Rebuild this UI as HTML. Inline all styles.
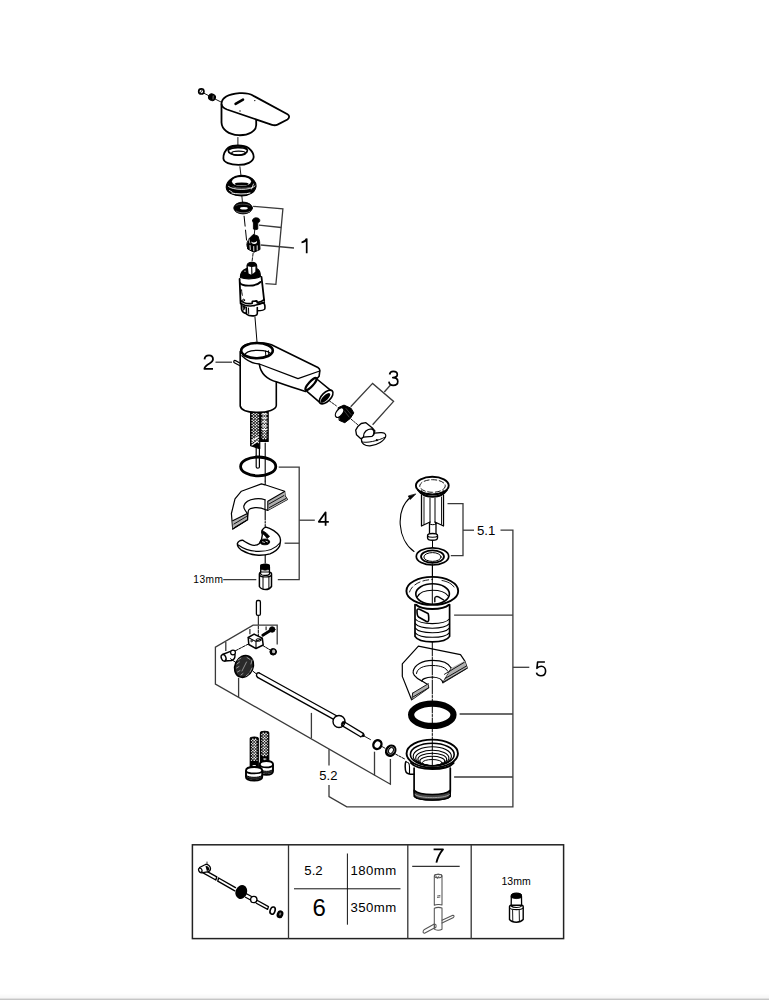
<!DOCTYPE html>
<html><head><meta charset="utf-8">
<style>
html,body{margin:0;padding:0;background:#fff;width:769px;height:1000px;overflow:hidden}
svg{position:absolute;left:0;top:0}
text{font-family:"Liberation Sans",sans-serif;fill:#000}
</style></head>
<body>
<svg width="769" height="1000" viewBox="0 0 769 1000">
<defs>
<linearGradient id="sh" x1="0" y1="0" x2="0" y2="1">
<stop offset="0" stop-color="#fff"/><stop offset="1" stop-color="#f4f4f4"/>
</linearGradient>
</defs>
<rect x="0" y="993.5" width="769" height="5.5" fill="url(#sh)"/>
<rect x="0" y="998.6" width="769" height="1.4" fill="#c6c6c6"/>

<g id="table" fill="none" stroke="#111" stroke-width="1.3">
<rect x="192.4" y="844.8" width="371.2" height="93.8" stroke="#222" stroke-width="1.5"/>
<line x1="288.5" y1="845" x2="288.5" y2="939" stroke="#333"/>
<line x1="407.8" y1="845" x2="407.8" y2="939" stroke="#333"/>
<line x1="471.2" y1="845" x2="471.2" y2="939" stroke="#333"/>
<line x1="294" y1="888.8" x2="400.5" y2="888.8" stroke-width="1"/>
<line x1="347.4" y1="853.5" x2="347.4" y2="924.7" stroke-width="1"/>
<line x1="412.2" y1="866.3" x2="459.7" y2="866.3" stroke="#333" stroke-width="1.2"/>
</g>
<g id="top" fill="none" stroke="#000" stroke-width="1.8" stroke-linejoin="round" stroke-linecap="round">
<!-- small screw + nut -->
<circle cx="201.3" cy="91.4" r="2.6" stroke-width="1.7"/>
<path d="M200.2,93.2 L201.5,91.2 L202.2,89.8" stroke-width="1" stroke="#222"/>
<ellipse cx="212" cy="97.3" rx="3.5" ry="3.2" transform="rotate(30 212 97.3)" fill="#000" stroke-width="1"/>
<path d="M213.2,96 L213,99" stroke="#888" stroke-width="0.9"/>
<line x1="203.5" y1="93" x2="209" y2="95.8" stroke-width="0.9"/>
<line x1="215" y1="99" x2="221" y2="102" stroke-width="0.9"/>
<!-- handle -->
<path d="M221.5,103.5 C222,98 228,94.2 239.5,93.2 C246,92.8 250.5,94 253,95.6 L287.5,114.2 C289.8,115.6 289.6,118 287.5,119.5 L277.5,124.6 C275.8,125.4 273.8,125.4 272,124.8 L227,109.5 C223.5,108.2 221.4,106.2 221.5,103.5 Z"/>
<path d="M221.5,104.5 L221.5,122.5 C221.8,129.5 228.5,134.6 238.5,135.2 C249,135.6 256.2,131 256.2,125 L256.2,120.2"/>
<path d="M235.6,103.8 L243,99.6" stroke-width="2.6"/>
<circle cx="254.8" cy="100.6" r="0.7" fill="#000" stroke="none"/>
<circle cx="240" cy="111" r="0.7" fill="#000" stroke="none"/>
<line x1="237.9" y1="137.5" x2="237.9" y2="145" stroke-width="0.9"/>
<!-- cap -->
<path d="M223.4,158.5 C223.2,154 225.5,150 228.5,147.5 C231,146 234.5,145.5 238,145.5 C242.5,145.5 246,146.2 248.5,148 C251.5,150.5 253.8,154 253.7,157 C253.2,162 246.5,164.9 238.5,164.9 C230,164.9 223.7,162.4 223.4,158.5 Z"/>
<ellipse cx="237.8" cy="150.5" rx="9.6" ry="4.6" stroke-width="1.7"/>
<path d="M229.5,149.5 C232,147.2 243,147 246.5,149.2" stroke-width="1.6"/>
<ellipse cx="238.6" cy="153.2" rx="6.9" ry="2.1" stroke-width="1.3"/>
<line x1="239.9" y1="166.7" x2="240.9" y2="175" stroke-width="0.9"/>
<!-- nut -->
<path d="M226.3,187.5 C226,182 232,176 241.4,175.3 C250,175.3 256.5,181 256,186.5 C255.5,192 249,195.9 241.4,195.9 C233,195.9 226.6,192.5 226.3,187.5 Z" fill="#000" stroke-width="1.2"/>
<ellipse cx="241.5" cy="181.5" rx="9.6" ry="4.6" fill="#fff" stroke="none"/>
<ellipse cx="241.7" cy="184" rx="7" ry="1.6" fill="#000" stroke="none"/>
<path d="M228.5,186.5 C232,190 250,191 255,186" stroke="#fff" stroke-width="0.9"/>
<path d="M232,193 C236,194.2 246,194.5 250,193" stroke="#fff" stroke-width="1"/>
<path d="M229.5,190.5 L232,192 M253.5,184 L251.5,189" stroke="#fff" stroke-width="0.8"/>
<path d="M233,187 C237,188.5 246,188.5 250,187.5" stroke="#888" stroke-width="0.7"/>
<line x1="241.9" y1="196.4" x2="242.5" y2="202.6" stroke-width="0.9"/>
<!-- seal -->
<ellipse cx="243.1" cy="208" rx="9.3" ry="5.9" fill="#000" stroke-width="1"/>
<ellipse cx="243.9" cy="208.3" rx="3.9" ry="1.2" fill="#fff" stroke="none"/>
<path d="M236.5,211.3 C239,213.2 247,213.5 250,211.3" stroke="#999" stroke-width="0.7"/>
<path d="M236,205.5 C238,203.8 247,203.5 250,205.5" stroke="#777" stroke-width="0.6"/>
<line x1="244.1" y1="216.2" x2="247.2" y2="246.5" stroke-width="1" stroke-dasharray="10,4"/>
<!-- screw -->
<path d="M252.6,220.5 C252.6,218.6 254.2,217.8 256.2,217.8 C258.3,217.8 259.8,218.6 259.8,220.5 C259.8,222 258.6,222.7 257.8,222.8 L257.8,229 C257.5,229.8 254,229.8 253.4,229 L253.4,222.8 C252.8,222.5 252.6,221.6 252.6,220.5 Z" fill="#000" stroke-width="0.8"/>
<line x1="254.8" y1="229.3" x2="254.3" y2="234.5" stroke-width="0.9"/>
<!-- spindle adapter -->
<path d="M249.3,238.5 L253.3,234.4 L258,236.2 L259.6,241.5 L260,249.5 L254,252.2 L247.6,249 L247.2,243 Z" fill="#000" stroke-width="1"/>
<path d="M251.2,241.5 C252.5,242.8 255.5,242.8 257,241 C257.2,242.5 256.5,243.8 254.3,244 C252.3,244 251.3,243 251.2,241.5 Z" fill="#fff" stroke="none"/>
<path d="M250,245.5 L250.3,249.5 M253.7,246.5 L253.8,250.8 M257.2,245.8 L257.2,250" stroke="#fff" stroke-width="0.9"/>
<path d="M249,239.5 L249.8,243" stroke="#fff" stroke-width="0.7"/>
<line x1="253.1" y1="253.3" x2="251.9" y2="262.6" stroke-width="0.9" stroke-dasharray="3,1.5"/>
<!-- cartridge -->
<path d="M240.4,277.5 C240.2,274 242,270.5 246.5,268.6 L247,268.5 L247,265.5 C247.5,263.2 250,262.3 251.8,262.3 C254.3,262.3 256.6,263.5 256.7,266 L256.7,268.5 C259,269.5 260.5,273 260.5,276.5 C257,279 246,279.8 240.4,277.5 Z" fill="#000" stroke-width="1.1"/>
<path d="M247.8,266.2 L251.2,267 L251.3,274.8 L248.6,273.6 Z M252.2,267 L255.5,266.4 L255.3,271.8 L252.5,274 Z" fill="#fff" stroke="none"/>
<circle cx="245" cy="271.2" r="0.6" fill="#fff" stroke="none"/>
<path d="M239.6,279 L240.6,303.5 M261.5,277 L264.2,301" stroke-width="1.8"/>
<path d="M240,283 C242,286.5 256,286.8 260.5,282" stroke-width="1.9"/>
<path d="M240.8,300.5 C243.5,303.2 249,303.8 252.1,303.4 L252.4,301.4 L256.8,300.9 L257.2,302.6 C260,302 262.5,301 264.1,299.6" stroke-width="1.7"/>
<path d="M241.3,303.6 C245,305.8 249.5,306.2 252.2,305.8 C256,305.2 261,303.8 264.3,302.4" stroke-width="1.6"/>
<path d="M241.3,303.5 L241.5,309 C242,311.5 244,313.2 246.4,313.6 M246.3,307.6 L246.5,314.2 C248.5,315.8 252.5,316.1 255.5,315.6 C256.5,315.2 257.3,314.4 257.3,313.5 L257.3,307.5 M257.3,304.2 L262.8,302.8 C264.6,303.2 265.2,306 264.8,309 C264.3,310 262,310.6 257.5,310.8" stroke-width="1.6"/>
<path d="M242.8,305.5 L245.5,306.8 L243.8,310 Z" fill="#000" stroke-width="0.8"/>
<path d="M248.5,308 L248.7,313.5" stroke-width="1"/>
<circle cx="243.6" cy="300.2" r="1" stroke-width="1"/>
<path d="M241.6,289.8 C241.6,292 242,294 242.4,295.2" stroke-width="1"/>
<line x1="255" y1="317.4" x2="257" y2="342" stroke-width="1"/>
</g>
<g id="body" fill="none" stroke="#000" stroke-width="1.6" stroke-linejoin="round" stroke-linecap="round">
<defs>
<pattern id="hatch" width="2.8" height="2.8" patternUnits="userSpaceOnUse">
<rect width="2.8" height="2.8" fill="#000"/><path d="M1.4,0.2 L2.6,1.4 L1.4,2.6 L0.2,1.4 Z" fill="#fff"/>
</pattern>
</defs>
<!-- hoses -->
<path d="M250.6,411.5 L250.6,445.8 L259.8,448.6 L259.8,411.5 Z" fill="#000" stroke-width="1.1"/>
<path d="M253.67,412.20L254.67,413.20L253.67,414.20L252.67,413.20ZM256.73,412.20L257.73,413.20L256.73,414.20L255.73,413.20ZM252.13,413.67L253.07,414.60L252.13,415.53L251.20,414.60ZM255.20,413.60L256.20,414.60L255.20,415.60L254.20,414.60ZM258.27,413.67L259.20,414.60L258.27,415.53L257.33,414.60ZM253.67,415.00L254.67,416.00L253.67,417.00L252.67,416.00ZM256.73,415.00L257.73,416.00L256.73,417.00L255.73,416.00ZM252.13,416.47L253.07,417.40L252.13,418.33L251.20,417.40ZM255.20,416.40L256.20,417.40L255.20,418.40L254.20,417.40ZM258.27,416.47L259.20,417.40L258.27,418.33L257.33,417.40ZM253.67,417.80L254.67,418.80L253.67,419.80L252.67,418.80ZM256.73,417.80L257.73,418.80L256.73,419.80L255.73,418.80ZM252.13,419.27L253.07,420.20L252.13,421.13L251.20,420.20ZM255.20,419.20L256.20,420.20L255.20,421.20L254.20,420.20ZM258.27,419.27L259.20,420.20L258.27,421.13L257.33,420.20ZM253.67,420.60L254.67,421.60L253.67,422.60L252.67,421.60ZM256.73,420.60L257.73,421.60L256.73,422.60L255.73,421.60ZM252.13,422.07L253.07,423.00L252.13,423.93L251.20,423.00ZM255.20,422.00L256.20,423.00L255.20,424.00L254.20,423.00ZM258.27,422.07L259.20,423.00L258.27,423.93L257.33,423.00ZM253.67,423.40L254.67,424.40L253.67,425.40L252.67,424.40ZM256.73,423.40L257.73,424.40L256.73,425.40L255.73,424.40ZM252.13,424.87L253.07,425.80L252.13,426.73L251.20,425.80ZM255.20,424.80L256.20,425.80L255.20,426.80L254.20,425.80ZM258.27,424.87L259.20,425.80L258.27,426.73L257.33,425.80ZM253.67,426.20L254.67,427.20L253.67,428.20L252.67,427.20ZM256.73,426.20L257.73,427.20L256.73,428.20L255.73,427.20ZM252.13,427.67L253.07,428.60L252.13,429.53L251.20,428.60ZM255.20,427.60L256.20,428.60L255.20,429.60L254.20,428.60ZM258.27,427.67L259.20,428.60L258.27,429.53L257.33,428.60ZM253.67,429.00L254.67,430.00L253.67,431.00L252.67,430.00ZM256.73,429.00L257.73,430.00L256.73,431.00L255.73,430.00ZM252.13,430.47L253.07,431.40L252.13,432.33L251.20,431.40ZM255.20,430.40L256.20,431.40L255.20,432.40L254.20,431.40ZM258.27,430.47L259.20,431.40L258.27,432.33L257.33,431.40ZM253.67,431.80L254.67,432.80L253.67,433.80L252.67,432.80ZM256.73,431.80L257.73,432.80L256.73,433.80L255.73,432.80ZM252.13,433.27L253.07,434.20L252.13,435.13L251.20,434.20ZM255.20,433.20L256.20,434.20L255.20,435.20L254.20,434.20ZM258.27,433.27L259.20,434.20L258.27,435.13L257.33,434.20ZM253.67,434.60L254.67,435.60L253.67,436.60L252.67,435.60ZM256.73,434.60L257.73,435.60L256.73,436.60L255.73,435.60ZM252.13,436.07L253.07,437.00L252.13,437.93L251.20,437.00ZM255.20,436.00L256.20,437.00L255.20,438.00L254.20,437.00ZM258.27,436.07L259.20,437.00L258.27,437.93L257.33,437.00ZM253.67,437.40L254.67,438.40L253.67,439.40L252.67,438.40ZM256.73,437.40L257.73,438.40L256.73,439.40L255.73,438.40ZM252.13,438.87L253.07,439.80L252.13,440.73L251.20,439.80ZM255.20,438.80L256.20,439.80L255.20,440.80L254.20,439.80ZM258.27,438.87L259.20,439.80L258.27,440.73L257.33,439.80ZM253.67,440.20L254.67,441.20L253.67,442.20L252.67,441.20ZM256.73,440.20L257.73,441.20L256.73,442.20L255.73,441.20ZM252.13,441.67L253.07,442.60L252.13,443.53L251.20,442.60ZM255.20,441.60L256.20,442.60L255.20,443.60L254.20,442.60ZM258.27,441.67L259.20,442.60L258.27,443.53L257.33,442.60Z" fill="#fff" stroke="none"/>
<path d="M260.6,411.5 L260.6,441.4 L268.2,441.4 L268.2,411.5 Z" fill="#000" stroke-width="1.1"/>
<path d="M263.13,412.20L264.13,413.20L263.13,414.20L262.13,413.20ZM265.67,412.20L266.67,413.20L265.67,414.20L264.67,413.20ZM261.87,413.93L262.53,414.60L261.87,415.27L261.20,414.60ZM264.40,413.60L265.40,414.60L264.40,415.60L263.40,414.60ZM266.93,413.93L267.60,414.60L266.93,415.27L266.27,414.60ZM263.13,415.00L264.13,416.00L263.13,417.00L262.13,416.00ZM265.67,415.00L266.67,416.00L265.67,417.00L264.67,416.00ZM261.87,416.73L262.53,417.40L261.87,418.07L261.20,417.40ZM264.40,416.40L265.40,417.40L264.40,418.40L263.40,417.40ZM266.93,416.73L267.60,417.40L266.93,418.07L266.27,417.40ZM263.13,417.80L264.13,418.80L263.13,419.80L262.13,418.80ZM265.67,417.80L266.67,418.80L265.67,419.80L264.67,418.80ZM261.87,419.53L262.53,420.20L261.87,420.87L261.20,420.20ZM264.40,419.20L265.40,420.20L264.40,421.20L263.40,420.20ZM266.93,419.53L267.60,420.20L266.93,420.87L266.27,420.20ZM263.13,420.60L264.13,421.60L263.13,422.60L262.13,421.60ZM265.67,420.60L266.67,421.60L265.67,422.60L264.67,421.60ZM261.87,422.33L262.53,423.00L261.87,423.67L261.20,423.00ZM264.40,422.00L265.40,423.00L264.40,424.00L263.40,423.00ZM266.93,422.33L267.60,423.00L266.93,423.67L266.27,423.00ZM263.13,423.40L264.13,424.40L263.13,425.40L262.13,424.40ZM265.67,423.40L266.67,424.40L265.67,425.40L264.67,424.40ZM261.87,425.13L262.53,425.80L261.87,426.47L261.20,425.80ZM264.40,424.80L265.40,425.80L264.40,426.80L263.40,425.80ZM266.93,425.13L267.60,425.80L266.93,426.47L266.27,425.80ZM263.13,426.20L264.13,427.20L263.13,428.20L262.13,427.20ZM265.67,426.20L266.67,427.20L265.67,428.20L264.67,427.20ZM261.87,427.93L262.53,428.60L261.87,429.27L261.20,428.60ZM264.40,427.60L265.40,428.60L264.40,429.60L263.40,428.60ZM266.93,427.93L267.60,428.60L266.93,429.27L266.27,428.60ZM263.13,429.00L264.13,430.00L263.13,431.00L262.13,430.00ZM265.67,429.00L266.67,430.00L265.67,431.00L264.67,430.00ZM261.87,430.73L262.53,431.40L261.87,432.07L261.20,431.40ZM264.40,430.40L265.40,431.40L264.40,432.40L263.40,431.40ZM266.93,430.73L267.60,431.40L266.93,432.07L266.27,431.40ZM263.13,431.80L264.13,432.80L263.13,433.80L262.13,432.80ZM265.67,431.80L266.67,432.80L265.67,433.80L264.67,432.80ZM261.87,433.53L262.53,434.20L261.87,434.87L261.20,434.20ZM264.40,433.20L265.40,434.20L264.40,435.20L263.40,434.20ZM266.93,433.53L267.60,434.20L266.93,434.87L266.27,434.20ZM263.13,434.60L264.13,435.60L263.13,436.60L262.13,435.60ZM265.67,434.60L266.67,435.60L265.67,436.60L264.67,435.60ZM261.87,436.33L262.53,437.00L261.87,437.67L261.20,437.00ZM264.40,436.00L265.40,437.00L264.40,438.00L263.40,437.00ZM266.93,436.33L267.60,437.00L266.93,437.67L266.27,437.00ZM263.13,437.40L264.13,438.40L263.13,439.40L262.13,438.40ZM265.67,437.40L266.67,438.40L265.67,439.40L264.67,438.40Z" fill="#fff" stroke="none"/>
<path d="M262,414 L267,414 M262,418 L267,418 M262,422 L267,422 M262,426 L267,426 M262,429.5 L267,429.5" stroke="#fff" stroke-width="1.2"/>
<path d="M252,441 L258,437 M252,445 L258,441" stroke="#fff" stroke-width="1.1"/>
<path d="M256.2,447.5 L256.2,467 C256.2,468.6 259.4,468.6 259.4,467 L259.4,447.5" stroke-width="1.2"/>
<line x1="265.2" y1="443" x2="265.2" y2="481" stroke-width="1.1"/>
<line x1="265.2" y1="481" x2="265.2" y2="563" stroke-width="1.1" stroke-dasharray="10,1.5,1.5,1.5"/>
<!-- O-ring -->
<ellipse cx="258.2" cy="466.4" rx="17.6" ry="9.4" stroke-width="2.8"/>
<!-- body -->
<path d="M234.9,361.6 L241.5,365.3" stroke-width="3.6" stroke-linecap="round"/>
<path d="M235,361.7 L241.5,365.3" stroke="#fff" stroke-width="1.3" stroke-linecap="round"/>
<path d="M240.2,351.5 L240.2,406 C241,410 248,412.4 257.8,412.4 C268,412.4 276,409.5 276.3,405.5 L276.3,382.5" fill="#fff"/>
<path d="M241,351 C241,346 248,342.8 257,342.8 C263,342.8 268,343.3 271.5,344.8 L317.9,367.5 C319.5,368.5 320,369.5 319.8,371 L319.1,376.3 L305.5,391.4 C297,389 285,385 277,382.1 C266,379 260.5,372 259.4,364.6" fill="#fff"/>
<ellipse cx="257" cy="350.6" rx="15.8" ry="7.6" stroke-width="2.6"/>
<path d="M244.5,356 C245,352 250,350.3 257.5,350.3 C265,350.3 270.5,352 271,354.5" stroke-width="1.2"/>
<path d="M265.5,351 L265.8,356 M268.5,350.8 L268.8,355.5" stroke-width="1"/>
<path d="M241.9,355.8 C247,361 252,363.5 259.4,364 L298,378.6 L319.7,371" stroke-width="1.3"/>
<!-- nozzle -->
<ellipse cx="311" cy="384" rx="8" ry="2.3" transform="rotate(-48 311 384)" fill="#fff" stroke-width="2.2"/>
<path d="M316.8,379 L331,390.6 M306.9,391.4 L320.6,403.1" stroke-width="1.6"/>
<ellipse cx="326.2" cy="397" rx="8.6" ry="4.4" transform="rotate(-45 326.2 397)" fill="#fff" stroke-width="1.6"/>
<ellipse cx="325.4" cy="398" rx="6.4" ry="2.6" transform="rotate(-45 325.4 398)" fill="#000" stroke="none"/>
<line x1="329.5" y1="401" x2="337.3" y2="406.5" stroke-width="0.9" stroke-dasharray="2,1.2"/>
<!-- aerator -->
<path d="M338.5,407.5 L344,405.1 L351.1,408.3 L353.8,412.9 L350.3,418.4 L344.8,422.7 L339.5,420.5 Z" fill="#000" stroke-width="1"/>
<ellipse cx="339.6" cy="412.6" rx="3.1" ry="5.6" transform="rotate(38 339.6 412.6)" fill="#fff" stroke-width="1.3"/>
<path d="M346,408.5 L351,414.5 M344.5,411 L349,417" stroke="#555" stroke-width="0.7"/>
<line x1="351.1" y1="419.2" x2="358.1" y2="425" stroke-width="0.9" stroke-dasharray="2,1.2"/>
<!-- key -->
<path d="M361.5,439 C361,443.5 365,446 370,445.8 C377,445.3 385,440.5 385.8,436 C386,433.5 383.8,432.3 380.5,432.6 L374.5,433.2 L363,437 Z" fill="#fff" stroke-width="1.2"/>
<path d="M361.6,441.8 C366,443.5 378,441 385.4,437" stroke-width="1"/>
<path d="M355.7,430.1 L358.1,426.2 L361.2,423.5 L365.9,422.7 L372.1,427.8 L374.9,430.9 L373.7,434.8 L372.1,436.3 L363.5,437.1 L360.8,438.7 L356.5,434.8 Z" fill="#fff" stroke-width="1.3"/>
<path d="M363.5,436.5 C363.5,432 367,429 371.5,428.8 C373.5,429.5 374.4,432 373.5,434.6" stroke-width="1.3"/>
<circle cx="376.8" cy="440.2" r="1.1" fill="#000" stroke="none"/>
</g>
<g id="mid" fill="none" stroke="#000" stroke-width="1.5" stroke-linejoin="round" stroke-linecap="round">
<!-- bent plate 4 -->
<path d="M232.7,529 L231.4,513.5 L235,498.9 L241.4,491.2 L261.4,483.9 L265,484.8 L284.6,491.2 L285.1,496.2 L287.3,499.4 L267.8,510.3 L265,509.5 C262,507.8 258,507.4 255,507.6 C251.5,508 248.5,509.5 248.3,511 L247.5,519.5 Z" fill="#fff" stroke-width="1.2"/>
<path d="M265,499.8 C262,498.7 258,498.5 255,498.9 C250,499.5 245,502 243.8,506 C243.5,509 245.5,511 247.3,513.2" stroke-width="1.2"/>
<path d="M267.8,501.2 L284.8,491.5 L285.1,496.2 L287.3,499.4 L267.8,510.3 Z" fill="#b0b0b0" stroke="none"/>
<path d="M232.7,520.8 L247.3,513.6 L247.7,519.8 L232.7,529 Z" fill="#b0b0b0" stroke="none"/>
<path d="M265,499.8 L265,509.5 M267.8,501.2 L267.8,510.3 M267.8,501.2 L284.6,491.5" stroke-width="1.1"/>
<path d="M269,504 L284,495.5 M269.5,507.5 L286,498.5" stroke-width="0.9"/>
<path d="M232.7,520.8 L247.3,513.6 M232.7,529 L247.7,519.8 M247.3,513.2 L247.6,519.8" stroke-width="1.1"/>
<path d="M234,524 L246.5,516.5 M234.5,527.5 L247,520" stroke-width="0.9"/>
<!-- clip -->
<path d="M237.4,543.5 C238,541.5 240.5,540 242.5,540.2 C246,542.2 250,545.2 254,545.4 C256.5,545.4 258.5,544.5 259.4,543.5 C261,541 262.3,538 262.3,535 C262,532.5 261.5,531 262.3,529.9 C263.5,528 265,527.2 266,527.1 C270,528 272,529.5 274.1,530.8 C278,533.5 280.5,537 280.5,539.9 C280.5,542 280,544 279.6,546.2 C277.5,550 274,552.5 270,553.8 C266,555 262,555.3 258.5,555.2 C252,555 245.5,552.5 241,549.8 C238.5,548 237.2,545.5 237.4,543.5 Z" fill="#fff" stroke-width="1.4"/>
<path d="M238.3,545 C243,548.5 251,551.3 258.8,551.4 C268,551.4 276,548 279.8,543" stroke-width="1.1"/>
<path d="M262.3,530.5 C265,532 268,534 269.5,536.5 L267,538.5 C265.5,536 263.5,534 262,533.3 Z" fill="#000" stroke-width="0.8"/>
<ellipse cx="264.9" cy="541.9" rx="4.7" ry="2.9" fill="#000" stroke-width="0.8"/>
<path d="M262.5,541.8 L264.5,542.4 M266,541.3 L267.6,541.9" stroke="#fff" stroke-width="0.8"/>
<!-- 13mm nut -->
<path d="M260.9,567 C261,564.8 263,564.2 265.2,564.2 C267.5,564.2 269.4,565 269.4,567 L269.4,574 C269,576 261.5,576 260.6,574 Z" fill="#fff" stroke-width="1.4"/>
<path d="M261,564.8 L269.3,564.8 L269.5,569 C267,570.5 263,570.5 260.8,569 Z" fill="#000" stroke-width="0.9"/>
<path d="M259.4,573.8 C259.6,572.5 260.6,572.2 261.2,572.2 L269.2,572.2 C270.6,572.3 271.5,573 271.5,574 L271.5,586.5 C270,588.5 268,589.6 265.8,589.6 C263,589.6 260.5,588.5 259.4,586.5 Z" fill="#fff" stroke-width="1.5"/>
<path d="M260.6,572.4 L260.6,574 C262,576 268.5,576 269.5,574 L269.5,572.4" fill="#fff" stroke-width="1.3"/>
<path d="M259.6,575.5 C261.5,577.5 269.5,577.5 271.3,575.5" stroke-width="1.2"/>
<path d="M263,577.3 L263,589 M268.9,577 L268.9,589" stroke-width="1"/>
<!-- pin -->
<rect x="256.4" y="600.5" width="4" height="14.8" rx="1.4" stroke-width="1.3"/>
<line x1="258.3" y1="615.5" x2="258.3" y2="625" stroke-width="1"/>
<line x1="258.3" y1="626.4" x2="258.3" y2="636" stroke-width="1" stroke-dasharray="2.5,1.2"/>
<!-- block -->
<path d="M248.2,637.5 L254.1,634.1 L262.3,638.2 L263.2,645 L256,648.5 L248.8,644.5 Z" fill="#fff" stroke-width="1.5"/>
<path d="M248.2,637.5 L256,641.5 L262.3,638.2 M256,641.5 L256,648.5" stroke-width="1.1"/>
<ellipse cx="258.5" cy="640" rx="2.5" ry="1.3" stroke-width="1"/>
<circle cx="251.5" cy="641" r="0.8" stroke-width="0.8"/>
<path d="M262.8,635.3 L270,630.8" stroke-width="2.8"/>
<circle cx="272.2" cy="629.5" r="2.8" fill="#000" stroke-width="0.8"/>
<line x1="263.5" y1="646" x2="269.6" y2="649.6" stroke-width="1" stroke-dasharray="2,1"/>
<circle cx="273.2" cy="651.8" r="3.3" fill="#000" stroke-width="1"/>
<ellipse cx="273.6" cy="651.4" rx="1.6" ry="1.9" fill="#bbb" stroke="none"/>
<!-- small cylinder -->
<line x1="235" y1="651" x2="248.2" y2="644.1" stroke-width="1" stroke-dasharray="3,1.2"/>
<path d="M222.5,654.5 L230.5,651.3 C233,650.5 235,653 235,655.5 C235,658 233.5,660 231.5,660.5 L224.5,661" fill="#fff" stroke-width="1.4"/>
<ellipse cx="223.6" cy="657.8" rx="2.3" ry="3.4" transform="rotate(-20 223.6 657.8)" fill="#fff" stroke-width="1.4"/>
<circle cx="233" cy="652.5" r="2.4" fill="#fff" stroke-width="1.2"/>
<line x1="230.5" y1="658.7" x2="235.5" y2="662.3" stroke-width="1"/>
<!-- knurled nut -->
<ellipse cx="244.05" cy="666.4" rx="9" ry="11.3" transform="rotate(25 244.05 666.4)" fill="#2a2a2a" stroke-width="1.6"/>
<path d="M238,660 L241,658 M237,664 L239.5,662 M236.5,668 L239,666.5 M237.5,672 L240,670.5 M241,675 L243,673.5 M246,676 L249,673.5 M250,672 L252,668 M251,664 L252,660 M247,657.5 L250,659.5" stroke="#999" stroke-width="1"/>
<path d="M242,671 L246.5,662" stroke="#aaa" stroke-width="0.8"/>
<line x1="253.2" y1="671.4" x2="256.5" y2="674" stroke-width="1"/>
<!-- long rod -->
<path d="M259.3,673 L337,716 M257.6,677.4 L335.5,720.3" stroke-width="1.4"/>
<path d="M259.3,673 C257,671.8 255.2,675.5 257.6,677.4" stroke-width="1.4"/>
<circle cx="339" cy="721.5" r="6" fill="#fff" stroke-width="1.4"/>
<path d="M344.5,722 L363.2,733.4 M342,725.6 L360.6,736.7" stroke-width="1.3"/>
<path d="M363.2,733.4 C364.5,734.5 364.5,736 363.5,736.5 L360.6,736.7" fill="#000" stroke-width="1.1"/>
<path d="M342.8,721.6 C341.5,722.5 341,724 341.6,725.8 L344.8,722.2 Z" fill="#000" stroke-width="0.9"/>
<line x1="364" y1="736" x2="370.5" y2="739.6" stroke-width="0.9"/>
<!-- small o-ring + washer -->
<ellipse cx="377.4" cy="744.6" rx="3.9" ry="4.5" transform="rotate(30 377.4 744.6)" stroke-width="2.4"/>
<line x1="382" y1="746.5" x2="385" y2="748.2" stroke-width="0.9"/>
<ellipse cx="390.7" cy="750.7" rx="5.6" ry="6.5" transform="rotate(30 390.7 750.7)" fill="#000" stroke="none"/>
<ellipse cx="390.9" cy="750.5" rx="3.2" ry="4" transform="rotate(30 390.9 750.5)" fill="none" stroke="#888" stroke-width="0.8"/>
<ellipse cx="391" cy="750.4" rx="1.8" ry="2.6" transform="rotate(30 391 750.4)" fill="#fff" stroke="none"/>
<!-- hoses bottom -->
<path d="M260.4,733 C260.4,731.8 262,731.3 264.6,731.3 C267,731.3 268.8,731.8 268.8,733 L268.8,762 L260.4,762 Z" fill="#000" stroke-width="1.1"/>
<path d="M263.20,732.20L264.20,733.20L263.20,734.20L262.20,733.20ZM266.00,732.20L267.00,733.20L266.00,734.20L265.00,733.20ZM261.80,733.80L262.60,734.60L261.80,735.40L261.00,734.60ZM264.60,733.60L265.60,734.60L264.60,735.60L263.60,734.60ZM267.40,733.80L268.20,734.60L267.40,735.40L266.60,734.60ZM263.20,735.00L264.20,736.00L263.20,737.00L262.20,736.00ZM266.00,735.00L267.00,736.00L266.00,737.00L265.00,736.00ZM261.80,736.60L262.60,737.40L261.80,738.20L261.00,737.40ZM264.60,736.40L265.60,737.40L264.60,738.40L263.60,737.40ZM267.40,736.60L268.20,737.40L267.40,738.20L266.60,737.40ZM263.20,737.80L264.20,738.80L263.20,739.80L262.20,738.80ZM266.00,737.80L267.00,738.80L266.00,739.80L265.00,738.80ZM261.80,739.40L262.60,740.20L261.80,741.00L261.00,740.20ZM264.60,739.20L265.60,740.20L264.60,741.20L263.60,740.20ZM267.40,739.40L268.20,740.20L267.40,741.00L266.60,740.20ZM263.20,740.60L264.20,741.60L263.20,742.60L262.20,741.60ZM266.00,740.60L267.00,741.60L266.00,742.60L265.00,741.60ZM261.80,742.20L262.60,743.00L261.80,743.80L261.00,743.00ZM264.60,742.00L265.60,743.00L264.60,744.00L263.60,743.00ZM267.40,742.20L268.20,743.00L267.40,743.80L266.60,743.00ZM263.20,743.40L264.20,744.40L263.20,745.40L262.20,744.40ZM266.00,743.40L267.00,744.40L266.00,745.40L265.00,744.40ZM261.80,745.00L262.60,745.80L261.80,746.60L261.00,745.80ZM264.60,744.80L265.60,745.80L264.60,746.80L263.60,745.80ZM267.40,745.00L268.20,745.80L267.40,746.60L266.60,745.80ZM263.20,746.20L264.20,747.20L263.20,748.20L262.20,747.20ZM266.00,746.20L267.00,747.20L266.00,748.20L265.00,747.20ZM261.80,747.80L262.60,748.60L261.80,749.40L261.00,748.60ZM264.60,747.60L265.60,748.60L264.60,749.60L263.60,748.60ZM267.40,747.80L268.20,748.60L267.40,749.40L266.60,748.60ZM263.20,749.00L264.20,750.00L263.20,751.00L262.20,750.00ZM266.00,749.00L267.00,750.00L266.00,751.00L265.00,750.00ZM261.80,750.60L262.60,751.40L261.80,752.20L261.00,751.40ZM264.60,750.40L265.60,751.40L264.60,752.40L263.60,751.40ZM267.40,750.60L268.20,751.40L267.40,752.20L266.60,751.40ZM263.20,751.80L264.20,752.80L263.20,753.80L262.20,752.80ZM266.00,751.80L267.00,752.80L266.00,753.80L265.00,752.80ZM261.80,753.40L262.60,754.20L261.80,755.00L261.00,754.20ZM264.60,753.20L265.60,754.20L264.60,755.20L263.60,754.20ZM267.40,753.40L268.20,754.20L267.40,755.00L266.60,754.20ZM263.20,754.60L264.20,755.60L263.20,756.60L262.20,755.60ZM266.00,754.60L267.00,755.60L266.00,756.60L265.00,755.60Z" fill="#fff" stroke="none"/>
<path d="M260.6,757.4 L268.6,757.4 L268.6,763 L260.6,763 Z" fill="#000" stroke="none"/>
<path d="M263.5,759 L266,759 M264.8,759 L264.8,763.5 M263.5,763.5 L266,763.5" stroke="#fff" stroke-width="0.8"/>
<path d="M259.8,764.5 C259.8,762 262.5,761 266.4,761 C270.3,761 273,762 273,764.5 L273,771 C273,773.5 270.3,774.8 266.4,774.8 C262.5,774.8 259.8,773.5 259.8,771 Z" fill="#fff" stroke-width="1.9"/>
<path d="M260.1,765.5 C262,768 271,768 272.7,765.5" stroke-width="1.8"/>
<path d="M260.3,769.5 C262.5,772 270.5,772 272.5,769.5 L272.6,771.5 C270.5,774 262.5,774 260.2,771.5 Z" fill="#333" stroke-width="1"/>
<path d="M250.2,738.5 C250.2,737.5 252,737 254.2,737 C256.5,737 258.3,737.5 258.3,738.5 L258.3,768 L250.2,768 Z" fill="#000" stroke-width="1.1"/>
<path d="M252.90,738.20L253.90,739.20L252.90,740.20L251.90,739.20ZM255.60,738.20L256.60,739.20L255.60,740.20L254.60,739.20ZM251.55,739.85L252.30,740.60L251.55,741.35L250.80,740.60ZM254.25,739.60L255.25,740.60L254.25,741.60L253.25,740.60ZM256.95,739.85L257.70,740.60L256.95,741.35L256.20,740.60ZM252.90,741.00L253.90,742.00L252.90,743.00L251.90,742.00ZM255.60,741.00L256.60,742.00L255.60,743.00L254.60,742.00ZM251.55,742.65L252.30,743.40L251.55,744.15L250.80,743.40ZM254.25,742.40L255.25,743.40L254.25,744.40L253.25,743.40ZM256.95,742.65L257.70,743.40L256.95,744.15L256.20,743.40ZM252.90,743.80L253.90,744.80L252.90,745.80L251.90,744.80ZM255.60,743.80L256.60,744.80L255.60,745.80L254.60,744.80ZM251.55,745.45L252.30,746.20L251.55,746.95L250.80,746.20ZM254.25,745.20L255.25,746.20L254.25,747.20L253.25,746.20ZM256.95,745.45L257.70,746.20L256.95,746.95L256.20,746.20ZM252.90,746.60L253.90,747.60L252.90,748.60L251.90,747.60ZM255.60,746.60L256.60,747.60L255.60,748.60L254.60,747.60ZM251.55,748.25L252.30,749.00L251.55,749.75L250.80,749.00ZM254.25,748.00L255.25,749.00L254.25,750.00L253.25,749.00ZM256.95,748.25L257.70,749.00L256.95,749.75L256.20,749.00ZM252.90,749.40L253.90,750.40L252.90,751.40L251.90,750.40ZM255.60,749.40L256.60,750.40L255.60,751.40L254.60,750.40ZM251.55,751.05L252.30,751.80L251.55,752.55L250.80,751.80ZM254.25,750.80L255.25,751.80L254.25,752.80L253.25,751.80ZM256.95,751.05L257.70,751.80L256.95,752.55L256.20,751.80ZM252.90,752.20L253.90,753.20L252.90,754.20L251.90,753.20ZM255.60,752.20L256.60,753.20L255.60,754.20L254.60,753.20ZM251.55,753.85L252.30,754.60L251.55,755.35L250.80,754.60ZM254.25,753.60L255.25,754.60L254.25,755.60L253.25,754.60ZM256.95,753.85L257.70,754.60L256.95,755.35L256.20,754.60ZM252.90,755.00L253.90,756.00L252.90,757.00L251.90,756.00ZM255.60,755.00L256.60,756.00L255.60,757.00L254.60,756.00ZM251.55,756.65L252.30,757.40L251.55,758.15L250.80,757.40ZM254.25,756.40L255.25,757.40L254.25,758.40L253.25,757.40ZM256.95,756.65L257.70,757.40L256.95,758.15L256.20,757.40ZM252.90,757.80L253.90,758.80L252.90,759.80L251.90,758.80ZM255.60,757.80L256.60,758.80L255.60,759.80L254.60,758.80ZM251.55,759.45L252.30,760.20L251.55,760.95L250.80,760.20ZM254.25,759.20L255.25,760.20L254.25,761.20L253.25,760.20ZM256.95,759.45L257.70,760.20L256.95,760.95L256.20,760.20Z" fill="#fff" stroke="none"/>
<path d="M250.4,761 L258.1,761 L258.1,768 L250.4,768 Z" fill="#000" stroke="none"/>
<path d="M253,765.5 L255.5,765.5 M254.2,765.5 L254.2,769.5 M253,769.5 L255.5,769.5" stroke="#fff" stroke-width="0.8"/>
<path d="M246,770.5 C246,768 249,767 254.1,767 C259.2,767 262.2,768 262.2,770.5 L262.2,777 C262.2,779.5 259.2,780.5 254.1,780.5 C249,780.5 246,779.5 246,777 Z" fill="#fff" stroke-width="1.9"/>
<path d="M246.3,771.5 C248,774 260,774 261.9,771.5" stroke-width="1.8"/>
<path d="M246.5,775.5 C248.5,778 259.5,778 261.7,775.5 L261.8,777.5 C259.5,780 248.5,780 246.4,777.5 Z" fill="#333" stroke-width="1"/>
</g>
<g id="drain" fill="none" stroke="#000" stroke-width="1.5" stroke-linejoin="round" stroke-linecap="round">
<!-- plug -->
<path d="M421.5,495 L421.5,526 L430,522 L429.5,524 L429.5,534 M443.5,495 L443.5,526 L435,522 L436,524 L436,534" fill="#fff" stroke-width="1.3"/>
<path d="M424,497 L424,524.5 M441.5,497 L441.5,524.5" stroke-width="0.9"/>
<path d="M430,498 L430,522 M435,498 L435,522" stroke-width="1"/>
<path d="M429.5,524 C431,525 434.5,525 436,524" stroke-width="1"/>
<ellipse cx="432.3" cy="485.6" rx="16.4" ry="8.8" fill="#fff" stroke-width="1.9"/>
<path d="M418,490 C421,494.5 427,496.5 432.5,496.5 C438,496.5 444,494.5 447,490" stroke-width="1.8"/>
<path d="M421.5,491 C421.5,495 425,496.8 432.5,496.8 C440,496.8 443.5,495 443.5,491" stroke-width="1.6"/>
<ellipse cx="432.5" cy="486" rx="12.8" ry="6.3" stroke-width="0.9" stroke-dasharray="5,2.5"/>
<path d="M427.6,535.5 C427.6,533.8 430,533.5 432.5,533.5 C435,533.5 437.5,533.8 437.5,535.5 L437.5,538 C437.5,539.6 435,540.2 432.5,540.2 C430,540.2 427.6,539.6 427.6,538 Z" fill="#fff" stroke-width="1.4"/>
<path d="M427.8,536.3 C429,537.5 436,537.5 437.3,536.3" stroke-width="1.1"/>
<line x1="432.5" y1="540.5" x2="432.5" y2="547.5" stroke-width="1"/>
<!-- arrow -->
<path d="M414,551.5 C398,540 394,510 412,496" stroke-width="1.1"/>
<path d="M415.5,494.2 L410.2,499.5 L408.5,496.3 Z" fill="#000" stroke-width="0.8"/>
<!-- washer -->
<ellipse cx="432.5" cy="556.4" rx="16.2" ry="8.6" fill="#fff" stroke-width="1.7"/>
<ellipse cx="432.5" cy="556.6" rx="11.5" ry="6.2" stroke-width="1.8"/>
<ellipse cx="432.5" cy="557" rx="8.6" ry="4.4" stroke-width="1"/>
<line x1="432.5" y1="565.5" x2="432.5" y2="577" stroke-width="1"/>
<!-- strainer -->
<path d="M415,604.5 L415,636.4 C417,640 424,641.9 432.3,641.9 C440.5,641.9 447.5,640 449.6,636.4 L449.6,604.5" fill="#fff" stroke-width="1.7"/>
<path d="M415.3,619 C418,622.4 424,623.6 432.3,623.6 C440.5,623.6 446.5,622.4 449.3,619 M415.3,623.6 C418,627 424,628.2 432.3,628.2 C440.5,628.2 446.5,627 449.3,623.6 M415.3,628.2 C418,631.6 424,632.8 432.3,632.8 C440.5,632.8 446.5,631.6 449.3,628.2 M415.3,632.8 C418,636.2 424,637.3 432.3,637.3 C440.5,637.3 446.5,636.2 449.3,632.8" stroke-width="1.1"/>
<ellipse cx="432.3" cy="590.9" rx="25.9" ry="14" fill="#fff" stroke-width="1.9"/>
<path d="M409.5,592 C412,585 420,580 432.5,579.5" stroke-width="0.9" stroke-dasharray="6,3"/>
<path d="M442,580.5 C448,581.5 452,584 454,587" stroke-width="0.9"/>
<ellipse cx="432.6" cy="594" rx="16.8" ry="10.2" stroke-width="1.6"/>
<path d="M417.2,597 C419.5,592.5 425,590.3 432.5,590.3 C440,590.3 445.5,592.5 448.2,596" stroke-width="1.1"/>
<path d="M434.8,601.8 L434.8,598 C435,596.5 437,596.3 438.5,596.8 L443.7,600" stroke-width="1.4"/>
<path d="M416,604.8 C420,608.3 426,609 432.3,609 C439,609 445,608.3 449,604.8" stroke-width="2"/>
<path d="M417,610 C417.5,609 418.5,608.8 419.5,609.3 L428,613.5 C428.6,614.5 428.8,617 428.7,620 C428.5,621.5 427.5,622 426.5,621.5 L418.5,617 C417.3,616 416.9,614 417,610 Z" stroke-width="1.6"/>
<line x1="432.3" y1="564" x2="432.3" y2="604" stroke-width="1"/>
<!-- bent plate 5 -->
<path d="M418.4,646.2 L460.5,654.6 L464.7,660.8 L467.3,668.1 L442.9,682.7 C442.5,680 440,677.5 432.5,677 C425,677 421.5,680 422,681.1 L428.5,685 L428.2,688 L411.6,699.8 L402.3,676.4 L402.3,663.9 Z" fill="#fff" stroke-width="1.2"/>
<path d="M422,681.1 C414,677 412.5,673 413.2,671.2 C414.5,665 422,660.3 432.5,660.3 C442,660.3 449,663.5 451.2,668.1" stroke-width="1.2"/>
<path d="M416.5,673.5 C417,668.5 423,665.5 432.5,665.5 C441,665.5 446.5,668 447.5,671" stroke-width="1"/>
<path d="M451.2,668.1 C449.5,672 446,677 442.9,682.7" stroke-width="1.1"/>
<path d="M451.2,668.1 L464.7,660.8 L467.3,668.1 L442.9,682.7 C446,677 449.5,672 451.2,668.1 Z" fill="#b0b0b0" stroke="none"/>
<path d="M412.7,693.1 L428.3,683.7 L428.2,688 L411.6,699.8 Z" fill="#b0b0b0" stroke="none"/>
<path d="M444.4,674.3 L464.2,662.4 M445,678.5 L466.5,666 M443.5,682 L466.5,668.5" stroke-width="0.9"/>
<path d="M412.7,693.1 L428.3,683.7 M413,697 L429,687.5 M411.8,699.5 L412.7,693.1" stroke-width="0.9"/>
<!-- O-ring 5 -->
<ellipse cx="432.3" cy="714.8" rx="21.2" ry="11.1" stroke-width="6.2"/>
<!-- drain body -->
<path d="M414.1,768 L414.1,790.4 L414.5,796.5 C417,799 424,800 432.3,800 C440.5,800 447.5,799 450,796.5 L450.3,790.4 L450.3,768" fill="#fff" stroke-width="1.7"/>
<path d="M414.2,790.4 C417.5,793.5 424,794.5 432.3,794.5 C440.5,794.5 447,793.5 450.2,790.4 L450,796.5 C447.5,799 440.5,800 432.3,800 C424,800 417,799 414.5,796.5 Z" fill="#444" stroke-width="1.6"/>
<path d="M415,794.5 C418,797 426,797.6 432.3,797.6 C439,797.6 446.5,797 449.5,794.5" stroke="#bbb" stroke-width="0.8"/>
<ellipse cx="432.25" cy="753.6" rx="25.7" ry="14" fill="#fff" stroke-width="1.9"/>
<ellipse cx="432.3" cy="754.5" rx="21.9" ry="11.3" stroke-width="1.6"/>
<ellipse cx="432.3" cy="756.25" rx="19.1" ry="9.55" stroke-width="1.1"/>
<ellipse cx="432.3" cy="758" rx="16.6" ry="7.8" stroke-width="1.1"/>
<ellipse cx="432.3" cy="759.5" rx="14.4" ry="6.2" stroke-width="1.1"/>
<ellipse cx="432.3" cy="761" rx="12.5" ry="4.7" stroke-width="1.1"/>
<ellipse cx="432.3" cy="762.6" rx="9.8" ry="3.1" stroke-width="1"/>
<path d="M411,763 C415,768 424,769 432.3,769 C440,769 449,768 453.5,763" stroke-width="2"/>
<path d="M406,761.5 C404.8,763 405,770 406,772 C407.5,774 411,774.5 414.1,774.3" stroke-width="1.5"/>
<path d="M406.5,762 C408.5,762 409.5,764 409.5,767 L409.5,773.5" stroke-width="1.1"/>
<line x1="395.7" y1="754.2" x2="405.5" y2="759.4" stroke-width="1" stroke-dasharray="2.5,1.2"/>
<line x1="432.3" y1="642" x2="432.3" y2="765" stroke-width="1" stroke-dasharray="14,1.5,2,1.5"/>
</g>
<g id="ticons" fill="none" stroke="#000" stroke-width="1.3" stroke-linejoin="round" stroke-linecap="round">
<!-- rod icon -->
<path d="M201.5,868.3 L216.8,876.8 M200.8,871.7 L215.8,880 M216.8,876.8 L215.8,880" stroke-width="1.4"/>
<path d="M218.6,878 L235.5,887.6 M217.8,881.2 L234.8,890.8 M218.6,878 L217.8,881.2" stroke-width="1.4"/>
<path d="M199.5,867.5 L205.5,864.5 C208,864 210.5,866.3 210.5,868.5 C210.5,870.5 209.3,871.6 207.5,871.8 L201,872.8" fill="#fff" stroke-width="1.3"/>
<ellipse cx="200.3" cy="870.2" rx="1.6" ry="2.2" transform="rotate(-25 200.3 870.2)" fill="#fff" stroke-width="1.2"/>
<path d="M205.5,866 C207.5,865.5 209.3,867.3 209.3,869 C209.3,870.3 208,871 206.8,871 Z" fill="#000" stroke="none"/>
<line x1="207" y1="862" x2="207" y2="864" stroke-width="0.8"/>
<ellipse cx="241.3" cy="892" rx="5.8" ry="7.1" transform="rotate(20 241.3 892)" fill="#000" stroke="none"/>
<path d="M246.5,893.8 L252,896.8 M245.5,897.2 L251,900.2" stroke-width="1.3"/>
<circle cx="253.8" cy="899.5" r="3.2" fill="#fff" stroke-width="1.3"/>
<path d="M257,900.3 L268.5,906.6 M256.3,903.2 L267.6,909.4 M268.5,906.6 L267.6,909.4" stroke-width="1.3"/>
<ellipse cx="272.6" cy="910.6" rx="2.4" ry="3.7" transform="rotate(20 272.6 910.6)" stroke-width="1.6"/>
<ellipse cx="280" cy="914.3" rx="3.3" ry="4" transform="rotate(20 280 914.3)" fill="#000" stroke="none"/>
<ellipse cx="280.2" cy="914" rx="1" ry="1.6" transform="rotate(20 280.2 914)" fill="#777" stroke="none"/>
<!-- tool 7 (grey) -->
<g stroke="#555" stroke-width="1.05">
<path d="M434.3,876 C434.3,874.8 436.3,874.2 438.2,874.2 C440,874.2 442,874.8 442,876 L442,905 C440,904 436,904.5 434.3,905.3 Z" fill="#fff"/>
<ellipse cx="438.2" cy="876" rx="3.6" ry="1.8"/>
<path d="M436.5,876 L437.5,878.5 L439,876" stroke-width="0.8"/>
<path d="M437.5,896 L440,895.5 M437.5,897.5 L440,897" stroke-width="0.9"/>
<path d="M434.3,908.2 C436,907.5 440,907.3 442,908 L442,929.2 C440,930.5 436,930.5 434.3,929.2 Z" fill="#fff"/>
<path d="M442,920.3 L452.8,915.2 C454,915 454.5,916.5 453.5,917.5 L442,923" />
<path d="M434.3,924 L424,929.8 C422.5,931 423,933.5 424.5,933.2 L434.3,928" />
<ellipse cx="435.2" cy="926.1" rx="0.9" ry="1.8" />
</g>
<!-- nut icon -->
<path d="M511.3,896.5 C511.5,893.8 513.5,893.1 516.4,893.1 C519.3,893.1 521.4,894 521.5,896.5 L521.6,905.5 C520,907.2 513,907.2 511.2,905.5 Z" fill="#fff" stroke-width="1.3"/>
<path d="M511.4,894.5 C512,893.3 520.8,893.3 521.4,894.5 L521.4,897.5 C519,899 513.5,899 511.4,897.5 Z" fill="#000" stroke-width="0.8"/>
<path d="M509.5,906.6 C509.6,905.6 510.6,905.3 511.2,905.3 L521.6,905.3 C522.4,905.3 523.2,905.8 523.2,906.6 L523.2,919.5 C521.5,921.5 519,922.2 516.3,922.2 C513.5,922.2 511,921.5 509.5,919.5 Z" fill="#fff" stroke-width="1.4"/>
<path d="M511.2,905.3 L511.2,906 C513,908 520,908 521.6,906 L521.6,905.3" stroke-width="1.2"/>
<path d="M509.6,908 C511.5,910.2 521.5,910.2 523.1,908" stroke-width="1.1"/>
<path d="M512.6,910.2 L512.8,921.5 M519.2,910.2 L519.4,921.5" stroke-width="0.9"/>
</g>
<g id="leaders" fill="none" stroke="#3a3a3a" stroke-width="1.3" stroke-linejoin="miter">
<polyline points="253.1,206.4 282.9,208.8 275.9,284.3 265.4,283.7"/>
<line x1="259" y1="225.2" x2="281.2" y2="227.5"/>
<line x1="260.7" y1="245" x2="294" y2="248"/>
<line x1="215.5" y1="362.2" x2="232" y2="362.2"/>
<polyline points="350.7,406.8 372.6,383.4 393.6,401.4 372.6,424.8"/>
<line x1="384.3" y1="392" x2="390.5" y2="385"/>
<polyline points="278.7,467.2 299.2,467.2 299.2,579.7 277.8,579.7"/>
<line x1="284.6" y1="543.2" x2="299.2" y2="543.2"/>
<line x1="299.2" y1="520.2" x2="314.8" y2="520.2"/>
<line x1="223.2" y1="579.7" x2="256.3" y2="579.7"/>
<polyline points="447.5,503.7 463,503.7 463,555.6 450.8,555.6"/>
<line x1="463" y1="530.2" x2="474" y2="530.2"/>
<polyline points="500.5,530.2 512.9,530.2 512.9,806.8 346.8,806.8 329,796.6 329,784.9"/>
<line x1="454.1" y1="615.1" x2="512.9" y2="615.1"/>
<line x1="459.6" y1="714" x2="512.9" y2="714"/>
<line x1="454.1" y1="777" x2="512.9" y2="777"/>
<line x1="512.9" y1="667.3" x2="529.3" y2="667.3"/>
<line x1="329" y1="749.2" x2="329" y2="765.4"/>
<polyline points="277.2,644.6 277.2,625.1 253.1,625.1 215.4,647.2 215.4,684 390.4,784.2 390.4,758.9"/>
<line x1="225.8" y1="642" x2="225.8" y2="651.1"/>
<line x1="249.9" y1="629" x2="249.9" y2="634.2"/>
<line x1="266.1" y1="626.4" x2="266.1" y2="630.3"/>
<line x1="238.6" y1="677.8" x2="238.6" y2="697"/>
<line x1="311.4" y1="712.9" x2="311.4" y2="738.2"/>
<line x1="374.5" y1="751.7" x2="374.5" y2="775.3"/>
</g>
<g id="labels">
<text x="304.3" y="875.2" font-size="13.2">5.2</text>
<text x="350.5" y="875.2" font-size="13.2" letter-spacing="0.45">180mm</text>
<text x="312.5" y="916.4" font-size="24">6</text>
<text x="350.5" y="911.7" font-size="13.2" letter-spacing="0.45">350mm</text>
<path d="M433.6,849.4 L443,849.4 C440,853 437.5,858 436.4,862.6" fill="none" stroke="#000" stroke-width="1.8" stroke-linejoin="round"/>
<text x="501.5" y="884.7" font-size="10.5">13mm</text>
<path d="M301.5,242.5 C304,242 306,240.5 306.7,238.6 L306.7,253.3" fill="none" stroke="#000" stroke-width="1.7"/>
<path d="M204.5,359.3 C204.7,357 206.5,355.4 209,355.4 C211.3,355.4 213,356.9 213,359.2 C213,361.2 211.5,362.3 209.5,363.5 C206.5,365.2 204.6,366.5 204.4,368.9 L213,368.9" fill="none" stroke="#000" stroke-width="1.8" stroke-linejoin="round"/>
<path d="M389.6,374.5 C389.9,372.5 391.2,371.4 393.2,371.4 C395.7,371.4 397.3,372.8 397.3,374.6 C397.3,376.6 395.5,377.6 392.8,377.6 C396,377.6 397.8,379.2 397.8,381.4 C397.8,383.9 395.8,385.3 393.2,385.3 C390.6,385.3 389.2,383.9 388.9,381.6" fill="none" stroke="#000" stroke-width="1.7" stroke-linejoin="round"/>
<path d="M325.6,525.8 L325.6,512.3 L318.8,521.8 L328.8,521.8" fill="none" stroke="#000" stroke-width="1.75" stroke-linejoin="round"/>
<text x="193.3" y="582.9" font-size="10.2" letter-spacing="0.45">13mm</text>
<text x="477" y="534.5" font-size="13.2">5.1</text>
<path d="M544.9,662 L537.6,662 L536.9,668.4 C538,666.8 539.5,666.2 541.2,666.2 C544,666.2 545.6,668.5 545.6,671 C545.6,674 543.5,675.8 540.9,675.8 C538.6,675.8 536.9,674.5 536.5,672.7" fill="none" stroke="#000" stroke-width="1.6" stroke-linejoin="round"/>
<text x="319.3" y="779.7" font-size="13">5.2</text>
</g>
</svg>
</body></html>
